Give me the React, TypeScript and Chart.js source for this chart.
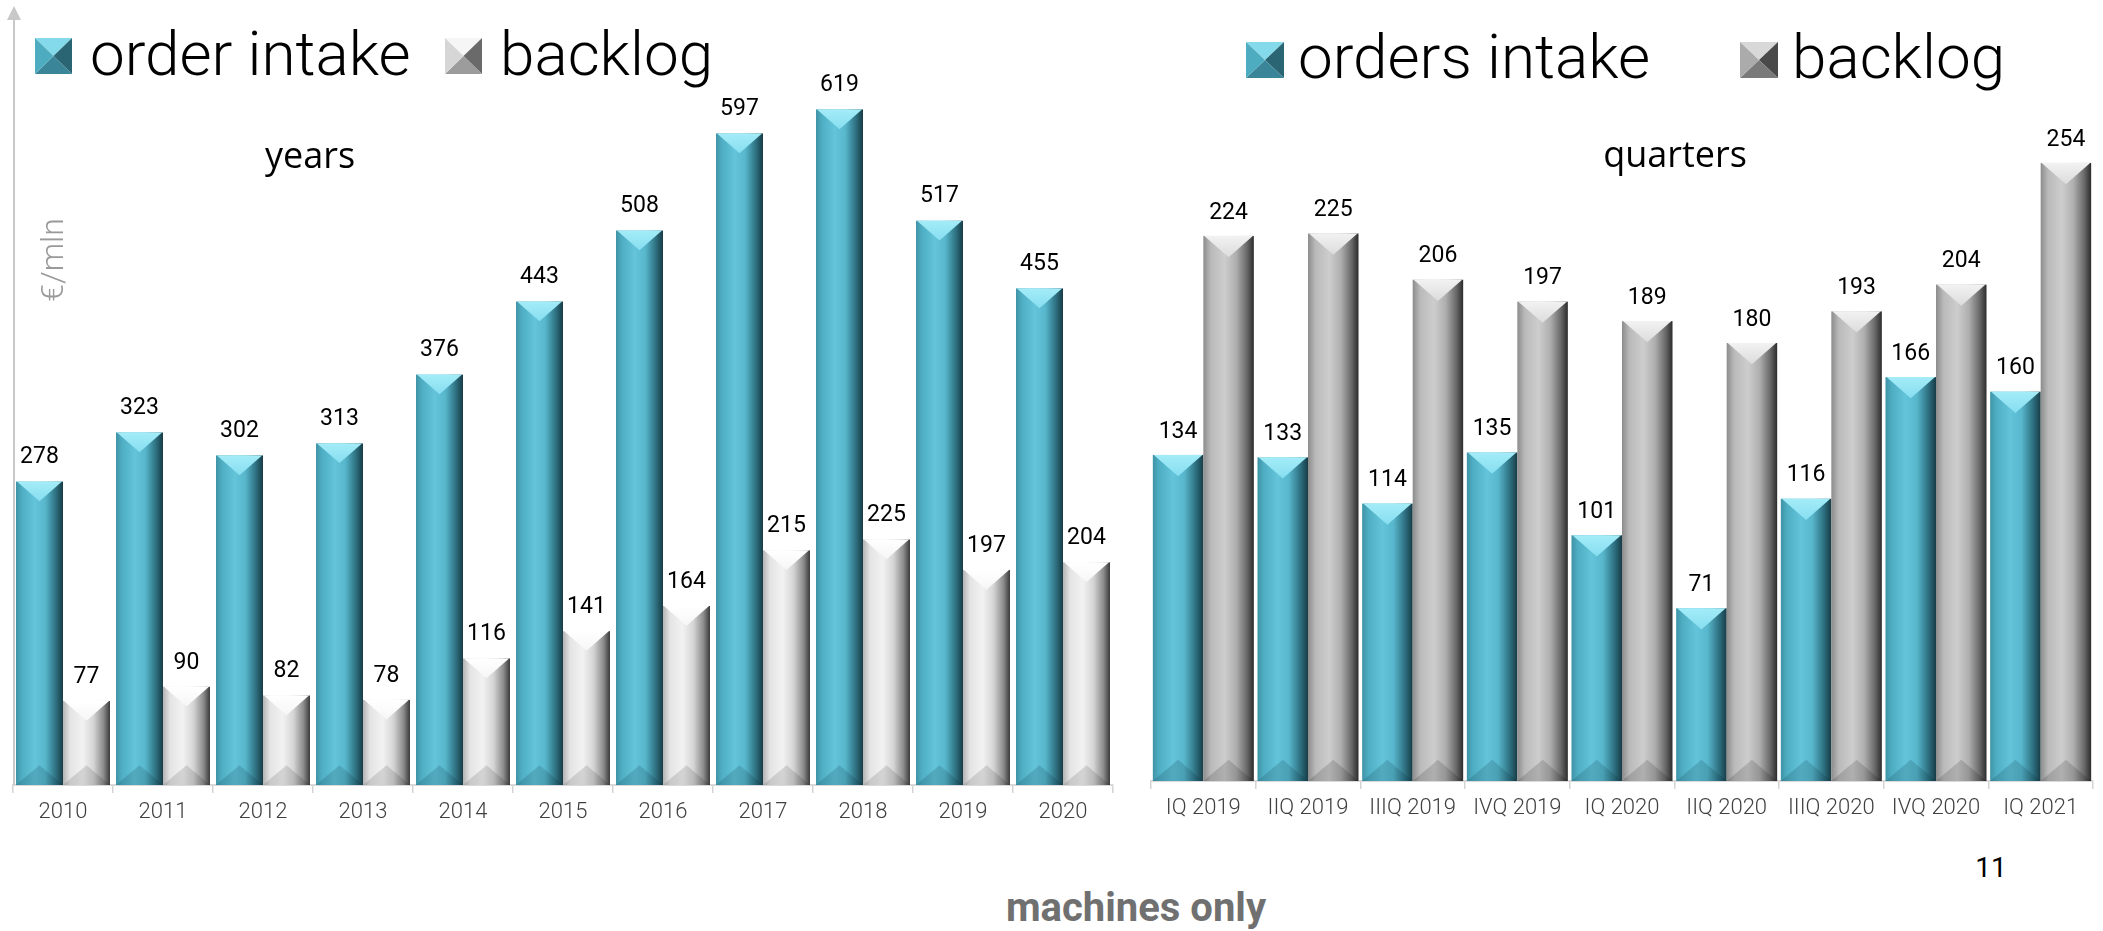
import React, { useEffect, useRef } from "react";
import { Chart, registerables } from "chart.js";

Chart.register(...registerables);

// ---------- data ----------
const years = ["2010", "2011", "2012", "2013", "2014", "2015", "2016", "2017", "2018", "2019", "2020"];
const orderIntakeYears = [278, 323, 302, 313, 376, 443, 508, 597, 619, 517, 455];
const backlogYears = [77, 90, 82, 78, 116, 141, 164, 215, 225, 197, 204];

const quarters = ["IQ 2019", "IIQ 2019", "IIIQ 2019", "IVQ 2019", "IQ 2020", "IIQ 2020", "IIIQ 2020", "IVQ 2020", "IQ 2021"];
const ordersIntakeQuarters = [134, 133, 114, 135, 101, 71, 116, 166, 160];
const backlogQuarters = [224, 225, 206, 197, 189, 180, 193, 204, 254];

// ---------- palettes ----------
type Pal = {
  face: [number, string][];
  top: [string, string];
  bottom: string;
  icon: { t: string; l: string; r: string; b: string };
};

const TEAL: Pal = {
  face: [
    [0, "#3f93a6"],
    [0.12, "#4eadc2"],
    [0.4, "#63c4da"],
    [0.62, "#58b7cc"],
    [0.84, "#2f7384"],
    [1, "#173c46"],
  ],
  top: ["#a4ecf8", "#86def0"],
  bottom: "rgba(0,40,50,0.16)",
  icon: { t: "#84d9ea", l: "#4eacc1", r: "#2a6573", b: "#3a8698" },
};

const LIGHT_GREY: Pal = {
  face: [
    [0, "#b4b4b4"],
    [0.15, "#e4e4e4"],
    [0.42, "#f2f2f2"],
    [0.65, "#d4d4d4"],
    [0.86, "#8c8c8c"],
    [1, "#3a3a3a"],
  ],
  top: ["#ffffff", "#f6f6f6"],
  bottom: "rgba(0,0,0,0.12)",
  icon: { t: "#f6f6f6", l: "#d6d6d6", r: "#6a6a6a", b: "#9c9c9c" },
};

const MID_GREY: Pal = {
  face: [
    [0, "#8c8c8c"],
    [0.15, "#bababa"],
    [0.42, "#cdcdcd"],
    [0.65, "#afafaf"],
    [0.86, "#6a6a6a"],
    [1, "#2c2c2c"],
  ],
  top: ["#f2f2f2", "#dcdcdc"],
  bottom: "rgba(0,0,0,0.14)",
  icon: { t: "#d8d8d8", l: "#ababab", r: "#4a4a4a", b: "#7a7a7a" },
};

// ---------- drawing helpers ----------
function drawBevelBar(ctx: CanvasRenderingContext2D, left: number, top: number, w: number, bottom: number, pal: Pal) {
  const h = bottom - top;
  if (h <= 0) return;
  const d = Math.min(w * 0.42, h / 2);
  const cx = left + w / 2;
  const g = ctx.createLinearGradient(left, 0, left + w, 0);
  pal.face.forEach(([s, c]) => g.addColorStop(s, c));
  ctx.fillStyle = g;
  ctx.fillRect(left, top, w, h);

  const tg = ctx.createLinearGradient(0, top, 0, top + d);
  tg.addColorStop(0, pal.top[0]);
  tg.addColorStop(1, pal.top[1]);
  ctx.beginPath();
  ctx.moveTo(left + 1, top);
  ctx.lineTo(left + w - 1, top);
  ctx.lineTo(cx, top + d);
  ctx.closePath();
  ctx.fillStyle = tg;
  ctx.fill();

  ctx.beginPath();
  ctx.moveTo(left, bottom);
  ctx.lineTo(left + w, bottom);
  ctx.lineTo(cx, bottom - d);
  ctx.closePath();
  ctx.fillStyle = pal.bottom;
  ctx.fill();
}

function drawIcon(ctx: CanvasRenderingContext2D, x: number, y: number, w: number, h: number, pal: Pal) {
  const cx = x + w / 2;
  const cy = y + h / 2;
  const tri = (pts: number[][], c: string) => {
    ctx.beginPath();
    ctx.moveTo(pts[0][0], pts[0][1]);
    ctx.lineTo(pts[1][0], pts[1][1]);
    ctx.lineTo(pts[2][0], pts[2][1]);
    ctx.closePath();
    ctx.fillStyle = c;
    ctx.fill();
  };
  tri([[x, y], [x + w, y], [cx, cy]], pal.icon.t);
  tri([[x + w, y], [x + w, y + h], [cx, cy]], pal.icon.r);
  tri([[x, y + h], [x + w, y + h], [cx, cy]], pal.icon.b);
  tri([[x, y], [x, y + h], [cx, cy]], pal.icon.l);
}

function barsPlugin(pals: Pal[], labelGap: number) {
  return {
    id: "bevelBars",
    afterDatasetsDraw(chart: any) {
      const ctx: CanvasRenderingContext2D = chart.ctx;
      ctx.save();
      chart.data.datasets.forEach((ds: any, di: number) => {
        const meta = chart.getDatasetMeta(di);
        meta.data.forEach((el: any, i: number) => {
          const { x, y, base, width } = el.getProps(["x", "y", "base", "width"], true);
          drawBevelBar(ctx, x - width / 2, y, width, base, pals[di]);
          ctx.fillStyle = "#000000";
          ctx.font = "400 23px Roboto";
          ctx.textAlign = "center";
          ctx.textBaseline = "middle";
          ctx.fillText(String(ds.data[i]), x, y - labelGap);
        });
      });
      ctx.restore();
    },
  };
}

type LegendItem = { text: string; iconX: number; iconW: number; textX: number; pal: Pal };

function decorPlugin(opts: {
  legend: LegendItem[];
  iconY: number;
  iconH: number;
  baseline: number;
  title: string;
  titleX: number;
  titleBaseline: number;
  axis?: boolean;
}) {
  return {
    id: "decor",
    afterDraw(chart: any) {
      const ctx: CanvasRenderingContext2D = chart.ctx;
      ctx.save();
      opts.legend.forEach((it) => {
        drawIcon(ctx, it.iconX, opts.iconY, it.iconW, opts.iconH, it.pal);
        ctx.fillStyle = "#000000";
        ctx.font = "300 62px Roboto";
        ctx.textAlign = "left";
        ctx.textBaseline = "alphabetic";
        ctx.fillText(it.text, it.textX, opts.baseline);
      });
      ctx.fillStyle = "#000000";
      ctx.font = "400 36px 'Open Sans'";
      ctx.textAlign = "center";
      ctx.textBaseline = "alphabetic";
      ctx.fillText(opts.title, opts.titleX, opts.titleBaseline);

      if (opts.axis) {
        const area = chart.chartArea;
        const ax = 14;
        ctx.strokeStyle = "#c8c8c8";
        ctx.lineWidth = 2;
        ctx.beginPath();
        ctx.moveTo(ax, area.bottom);
        ctx.lineTo(ax, 19);
        ctx.stroke();
        ctx.fillStyle = "#c8c8c8";
        ctx.beginPath();
        ctx.moveTo(ax, 6);
        ctx.lineTo(ax + 7, 20);
        ctx.lineTo(ax - 7, 20);
        ctx.closePath();
        ctx.fill();
        ctx.save();
        ctx.translate(63, 260);
        ctx.rotate(-Math.PI / 2);
        ctx.fillStyle = "#9a9a9a";
        ctx.font = "300 32px Roboto";
        ctx.textAlign = "center";
        ctx.textBaseline = "alphabetic";
        ctx.fillText("€/mln", 0, 0);
        ctx.restore();
      }
      ctx.restore();
    },
  };
}

function xScale() {
  return {
    offset: true,
    grid: {
      offset: true,
      drawOnChartArea: false,
      drawTicks: true,
      tickLength: 8,
      color: "#d4d4d4",
      lineWidth: 1.5,
    },
    border: { display: true, color: "#d9d9d9", width: 2 },
    ticks: {
      font: { family: "Roboto", size: 22, weight: "300" },
      color: "#404040",
      padding: 6,
      maxRotation: 0,
      autoSkip: false,
    },
    afterFit: (s: any) => {
      s.height = 40;
    },
  };
}

export default function App() {
  const leftRef = useRef<HTMLCanvasElement | null>(null);
  const rightRef = useRef<HTMLCanvasElement | null>(null);

  useEffect(() => {
    Chart.defaults.font.family = "Roboto";
    const left = new Chart(leftRef.current as HTMLCanvasElement, {
      type: "bar",
      data: {
        labels: years,
        datasets: [
          { label: "order intake", data: orderIntakeYears, backgroundColor: "rgba(0,0,0,0)", borderWidth: 0, categoryPercentage: 0.94, barPercentage: 1 },
          { label: "backlog", data: backlogYears, backgroundColor: "rgba(0,0,0,0)", borderWidth: 0, categoryPercentage: 0.94, barPercentage: 1 },
        ],
      },
      options: {
        responsive: false,
        animation: false,
        events: [],
        layout: { padding: { left: 13, right: 17, top: 21, bottom: 0 } },
        plugins: { legend: { display: false }, tooltip: { enabled: false }, title: { display: false } },
        scales: {
          x: xScale() as any,
          y: { display: false, min: 0, max: 700 },
        },
      },
      plugins: [
        barsPlugin([TEAL, LIGHT_GREY], 24),
        decorPlugin({
          legend: [
            { text: "order intake", iconX: 35, iconW: 37, textX: 90, pal: TEAL },
            { text: "backlog", iconX: 445, iconW: 37, textX: 500, pal: LIGHT_GREY },
          ],
          iconY: 38,
          iconH: 36,
          baseline: 75,
          title: "years",
          titleX: 310,
          titleBaseline: 168,
          axis: true,
        }),
      ],
    } as any);

    const right = new Chart(rightRef.current as HTMLCanvasElement, {
      type: "bar",
      data: {
        labels: quarters,
        datasets: [
          { label: "orders intake", data: ordersIntakeQuarters, backgroundColor: "rgba(0,0,0,0)", borderWidth: 0, categoryPercentage: 0.965, barPercentage: 1 },
          { label: "backlog", data: backlogQuarters, backgroundColor: "rgba(0,0,0,0)", borderWidth: 0, categoryPercentage: 0.965, barPercentage: 1 },
        ],
      },
      options: {
        responsive: false,
        animation: false,
        events: [],
        layout: { padding: { left: 21, right: 10, top: 51, bottom: 0 } },
        plugins: { legend: { display: false }, tooltip: { enabled: false }, title: { display: false } },
        scales: {
          x: xScale() as any,
          y: { display: false, min: 0, max: 300 },
        },
      },
      plugins: [
        barsPlugin([TEAL, MID_GREY], 23),
        decorPlugin({
          legend: [
            { text: "orders intake", iconX: 116, iconW: 38, textX: 168, pal: TEAL },
            { text: "backlog", iconX: 610, iconW: 38, textX: 662, pal: MID_GREY },
          ],
          iconY: 42,
          iconH: 36,
          baseline: 78,
          title: "quarters",
          titleX: 545,
          titleBaseline: 167,
        }),
      ],
    } as any);

    return () => {
      left.destroy();
      right.destroy();
    };
  }, []);

  return (
    <div style={{ position: "absolute", left: 0, top: 0, width: 2103, height: 931, background: "#ffffff", overflow: "hidden" }}>
      <canvas
        ref={leftRef}
        width={1130}
        height={825}
        style={{ position: "absolute", left: 0, top: 0, width: 1130, height: 825 }}
      />
      <canvas
        ref={rightRef}
        width={973}
        height={821}
        style={{ position: "absolute", left: 1130, top: 0, width: 973, height: 821 }}
      />
      <div
        style={{
          position: "absolute",
          left: 1136,
          top: 888,
          transform: "translateX(-50%)",
          fontFamily: "Roboto, sans-serif",
          fontWeight: 700,
          fontSize: 40,
          lineHeight: "40px",
          color: "#707070",
          whiteSpace: "nowrap",
        }}
      >
        machines only
      </div>
      <div
        style={{
          position: "absolute",
          left: 1991,
          top: 854,
          transform: "translateX(-50%)",
          fontFamily: "Roboto, sans-serif",
          fontWeight: 400,
          fontSize: 28,
          lineHeight: "28px",
          color: "#000000",
          whiteSpace: "nowrap",
        }}
      >
        11
      </div>
    </div>
  );
}
